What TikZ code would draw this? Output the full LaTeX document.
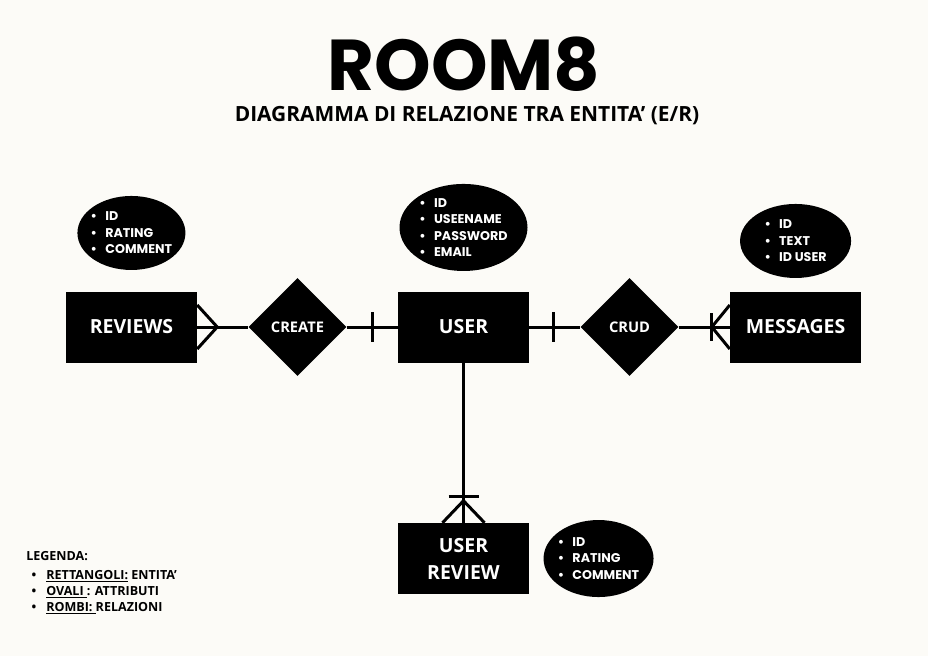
\documentclass[tikz,border=0pt]{standalone}
\usepackage{fontspec}
\setmainfont{Open Sans}
\newfontfamily\attrfont{Poppins}
\usetikzlibrary{positioning,shapes.geometric}
\definecolor{paper}{RGB}{252,251,247}
\newlength{\gap}
\setlength{\gap}{38.25pt}
\newcommand{\itm}[1]{\makebox[11pt][l]{\textbullet}#1}

\tikzset{
  entity/.style={rectangle, fill=black, text=white, minimum width=98.25pt, minimum height=53.25pt,
    align=center, font=\bfseries\fontsize{14.6}{20.3}\selectfont},
  relation/.style={diamond, fill=black, text=white, minimum width=73.5pt, minimum height=73.5pt,
    inner sep=0pt, font=\bfseries\fontsize{11}{12}\selectfont},
  attrib/.style={ellipse, fill=black, text=white, inner sep=-4pt, align=left,
    font=\attrfont\bfseries\fontsize{9.5}{12.4}\selectfont},
  link/.style={line width=2.25pt},
}

\begin{document}
\begin{tikzpicture}[x=0.75pt,y=-0.75pt]
    \fill[paper] (0,0) rectangle (928,656);

    % Title
    \node[inner sep=0pt] (title) at (464,64) {\attrfont\bfseries\fontsize{54}{60}\selectfont ROOM8};
    \node[inner sep=0pt] (subtitle) at (467,116) {\bfseries\fontsize{15.7}{18}\selectfont DIAGRAMMA DI RELAZIONE TRA ENTITA’ (E/R)};

    % Entities and relations
    \node[entity] (user) at (463.5,327) {USER};
    \node[relation, left=\gap of user] (create) {CREATE};
    \node[entity, left=\gap of create] (reviews) {REVIEWS};
    \node[relation, right=\gap of user] (crud) {CRUD};
    \node[entity, right=\gap of crud] (messages) {MESSAGES};
    \node[entity, below=120pt of user] (userreview) {USER\\REVIEW};

    % Attributes
    \node[attrib, above=15.75pt of reviews, minimum width=81pt, minimum height=55.5pt] (reviewsattr)
      {\itm{ID}\\\itm{RATING}\\\itm{COMMENT}};
    \node[attrib, above=15pt of user, minimum width=96pt, minimum height=65.25pt] (userattr)
      {\itm{ID}\\\itm{USEENAME}\\\itm{PASSWORD}\\\itm{EMAIL}};
    \node[attrib, above=9.75pt of messages, minimum width=83.25pt, minimum height=55.5pt] (messagesattr)
      {\itm{ID}\\\itm{TEXT}\\\itm{ID USER}};
    \node[attrib, right=10.5pt of userreview, minimum width=82.5pt, minimum height=57.75pt] (userreviewattr)
      {\itm{ID}\\\itm{RATING}\\\itm{COMMENT}};

    % Connectors
    \draw[link] (reviews) -- (create);
    \draw[link] (create) -- (user);
    \draw[link] (user) -- (crud);
    \draw[link] (crud) -- (messages);
    \draw[link] (user) -- (userreview);

    % Cardinalities
    % many at REVIEWS
    \draw[link] ([shift={(0,-22)}]reviews.east) -- ([shift={(20,0)}]reviews.east) -- ([shift={(0,22)}]reviews.east);
    % one at USER
    \draw[link] ([shift={(-25,-15)}]user.west) -- ([shift={(-25,15)}]user.west);
    \draw[link] ([shift={(24,-15)}]user.east) -- ([shift={(24,15)}]user.east);
    % one or many at MESSAGES
    \draw[link] ([shift={(-18,-14)}]messages.west) -- ([shift={(-18,14)}]messages.west);
    \draw[link] ([shift={(0,-22)}]messages.west) -- ([shift={(-18,0)}]messages.west) -- ([shift={(0,22)}]messages.west);
    % one or many at USER REVIEW
    \draw[link] ([shift={(-15,-26)}]userreview.north) -- ([shift={(15,-26)}]userreview.north);
    \draw[link] ([shift={(-21,0)}]userreview.north) -- ([shift={(0,-22)}]userreview.north) -- ([shift={(21,0)}]userreview.north);

    % Legend
    \node[anchor=north west, align=left, inner sep=0pt, font=\bfseries\fontsize{9.4}{12}\selectfont] (legend) at (26,551)
      {LEGENDA:\\[2.5pt]
       \hspace*{4pt}\itm{\underline{RETTANGOLI:} ENTITA’}\\
       \hspace*{4pt}\itm{\underline{OVALI\ }: ATTRIBUTI}\\
       \hspace*{4pt}\itm{\underline{ROMBI:\ }RELAZIONI}};
\end{tikzpicture}
\end{document}
